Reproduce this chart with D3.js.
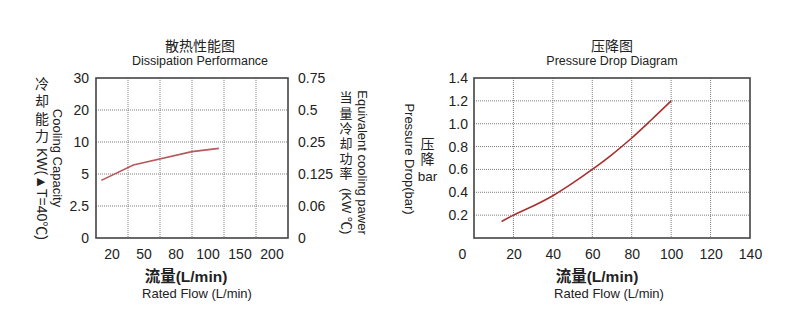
<!DOCTYPE html>
<html>
<head>
<meta charset="utf-8">
<script src="https://cdn.jsdelivr.net/npm/d3@7"></script>
<style>
  html, body { margin: 0; padding: 0; background: #fff; }
  svg { display: block; }
  text { font-family: "Liberation Sans", Arial, "Noto Sans CJK SC", sans-serif; fill: #222; }
  .cjk { font-family: "Noto Sans CJK SC", "Liberation Sans", sans-serif; }
  .vert { writing-mode: vertical-rl; text-orientation: upright; }
</style>
</head>
<body>
<svg id="chart" width="800" height="336"></svg>
<script>
// ---- Cooling performance chart data ----
const coolFlowCats = [20, 50, 80, 100, 150, 200];          // L/min, category axis
const coolKwTicks = [0, 2.5, 5, 10, 20, 30];               // KW, left axis
const coolEqTicks = [0, 0.06, 0.125, 0.25, 0.5, 0.75];     // KW/℃, right axis
const coolFlow = [10, 40, 90, 117];
const coolKw = [4.5, 6.4, 8.5, 9.0];

// ---- Pressure drop chart data ----
const pdFlowTicks = [0, 20, 40, 60, 80, 100, 120, 140];
const pdBarTicks = [0.2, 0.4, 0.6, 0.8, 1.0, 1.2, 1.4];
const pdFlow = [14, 20, 30, 40, 50, 60, 70, 80, 90, 100];
const pdBar = [0.145, 0.2, 0.28, 0.37, 0.48, 0.6, 0.73, 0.875, 1.035, 1.2];

const svg = d3.select("#chart");
const GRID = "#7d7d7d", FRAME = "#444";

function grid(g, x1, x2, y1, y2, xs, ys) {
  g.selectAll("line.gx").data(xs).join("line").attr("class", "gx")
    .attr("x1", d => d).attr("x2", d => d).attr("y1", y1).attr("y2", y2);
  g.selectAll("line.gy").data(ys).join("line").attr("class", "gy")
    .attr("y1", d => d).attr("y2", d => d).attr("x1", x1).attr("x2", x2);
  g.selectAll("line").attr("stroke", GRID).attr("stroke-width", 1)
    .attr("stroke-dasharray", "1,1");
}

function frame(x1, x2, y1, y2) {
  svg.append("rect").attr("x", x1).attr("y", y1)
    .attr("width", x2 - x1).attr("height", y2 - y1)
    .attr("fill", "none").attr("stroke", FRAME).attr("stroke-width", 1.6);
}

function styleAxis(g, size) {
  g.select(".domain").remove();
  g.selectAll("text").attr("font-size", size)
    .attr("font-family", "'Liberation Sans', Arial, sans-serif").attr("fill", "#222");
}

// upright CJK characters set in a vertical column
function vStack(str, x, yTop, size, spacing) {
  return svg.append("text").attr("class", "cjk vert")
    .attr("x", x).attr("y", yTop)
    .attr("font-size", size).attr("letter-spacing", spacing)
    .text(str);
}

// text rotated to read top-to-bottom
function vText(str, x, y, size, anchor) {
  svg.append("text")
    .attr("transform", `translate(${x},${y}) rotate(90)`)
    .attr("text-anchor", anchor).attr("dominant-baseline", "central")
    .attr("font-size", size).text(str);
}

function titles(cx, cn, en) {
  svg.append("text").attr("class", "cjk").attr("x", cx).attr("y", 51)
    .attr("text-anchor", "middle").attr("font-size", 14).text(cn);
  svg.append("text").attr("x", cx).attr("y", 65)
    .attr("text-anchor", "middle").attr("font-size", 12.5).text(en);
}

function xTitles(cxCn, cxEn) {
  svg.append("text").attr("x", cxCn).attr("y", 282)
    .attr("text-anchor", "middle").attr("font-size", 15.5).attr("font-weight", "bold")
    .attr("fill", "#111").text("流量(L/min)");
  svg.append("text").attr("x", cxEn).attr("y", 298)
    .attr("text-anchor", "middle").attr("font-size", 13).text("Rated Flow (L/min)");
}

// ================= Cooling performance =================
{
  const L = 96, R = 288, T = 78, B = 238;
  const xBand = d3.scaleBand().domain(coolFlowCats).range([L, R]);
  const xVal = d3.scaleLinear().domain(coolFlowCats)
    .range(coolFlowCats.map(c => xBand(c) + xBand.bandwidth() / 2));
  const yPos = d3.scalePoint().domain(coolKwTicks).range([B, T]);
  const yKw = d3.scaleLinear().domain(coolKwTicks).range(coolKwTicks.map(yPos));
  const yEq = d3.scaleLinear().domain(coolEqTicks).range(coolKwTicks.map(yPos));

  grid(svg.append("g"), L, R, T, B,
    coolFlowCats.slice(1).map(c => xBand(c)),
    coolKwTicks.slice(1, -1).map(yPos));

  svg.append("path")
    .datum(coolFlow.map((f, i) => [f, coolKw[i]]))
    .attr("fill", "none").attr("stroke", "#b65a5e").attr("stroke-width", 1.6)
    .attr("d", d3.line().x(d => xVal(d[0])).y(d => yKw(d[1])));

  frame(L, R, T, B);

  styleAxis(svg.append("g").attr("transform", `translate(${L},0)`)
    .call(d3.axisLeft(yKw).tickValues(coolKwTicks).tickSize(0).tickPadding(7)
      .tickFormat(d => d)), 14);
  styleAxis(svg.append("g").attr("transform", `translate(${R},0)`)
    .call(d3.axisRight(yEq).tickValues(coolEqTicks).tickSize(0).tickPadding(10)
      .tickFormat(d => d)), 14);
  styleAxis(svg.append("g").attr("transform", `translate(0,${B})`)
    .call(d3.axisBottom(xBand).tickSize(0).tickPadding(11)), 14);

  titles(200, "散热性能图", "Dissipation Performance");
  xTitles(186, 197);

  vStack("冷却能力", 42, 76.5, 14, 3.4);
  vText("KW(▲T=40℃)", 42, 148, 14, "start");
  vText("Cooling Capacity", 57.5, 158, 13, "middle");

  vStack("当量冷却功率", 346, 91, 13, 2.1);
  vText("(KW ℃)", 346, 188, 13, "start");
  vText("Equivalent cooling pawer", 362, 162.5, 13, "middle");
}

// ================= Pressure drop =================
{
  const L = 474, R = 750, T = 78, B = 238;
  const x = d3.scaleLinear().domain([0, 140]).range([L, R]);
  const y = d3.scaleLinear().domain([0, 1.4]).range([B, T]);

  grid(svg.append("g"), L, R, T, B,
    pdFlowTicks.slice(1, -1).map(x),
    pdBarTicks.slice(0, -1).map(y));

  svg.append("path")
    .datum(pdFlow.map((f, i) => [f, pdBar[i]]))
    .attr("fill", "none").attr("stroke", "#a8302f").attr("stroke-width", 1.6)
    .attr("d", d3.line().curve(d3.curveMonotoneX).x(d => x(d[0])).y(d => y(d[1])));

  frame(L, R, T, B);

  styleAxis(svg.append("g").attr("transform", `translate(${L},0)`)
    .call(d3.axisLeft(y).tickValues(pdBarTicks).tickSize(0).tickPadding(6)
      .tickFormat(d3.format(".1f"))), 14);
  const xa = svg.append("g").attr("transform", `translate(0,${B})`)
    .call(d3.axisBottom(x).tickValues(pdFlowTicks).tickSize(0).tickPadding(11));
  styleAxis(xa, 14);
  xa.selectAll(".tick text").attr("dx", d => d === 0 ? -12 : 0);

  titles(612, "压降图", "Pressure Drop Diagram");
  xTitles(597, 609);

  vText("Pressure Drop(bar)", 409, 159, 13, "middle");
  vStack("压降", 427.5, 136.3, 14, 1);
  svg.append("text").attr("x", 427.5).attr("y", 181)
    .attr("text-anchor", "middle").attr("font-size", 13.5).text("bar");
}
</script>
</body>
</html>
